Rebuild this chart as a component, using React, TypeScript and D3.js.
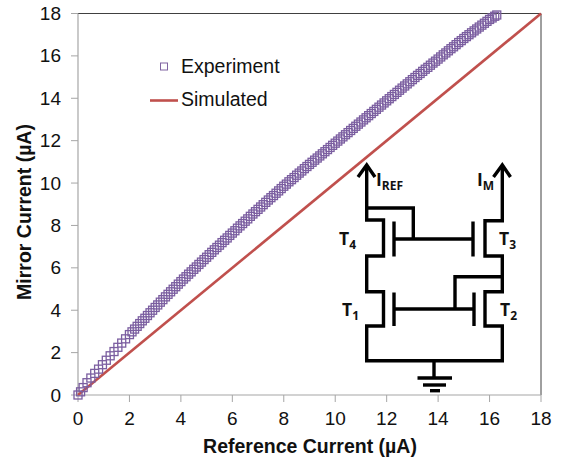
import * as d3 from "d3";

const X_TICKS = [0, 2, 4, 6, 8, 10, 12, 14, 16, 18];
const Y_TICKS = [0, 2, 4, 6, 8, 10, 12, 14, 16, 18];

const EXP_X = [
  0, 0.1, 0.2, 0.35, 0.5, 0.65, 0.8, 0.95, 1.1, 1.25, 1.4, 1.55, 1.7, 1.85, 2, 2.1, 2.2, 2.3, 2.4, 2.5, 2.6, 2.7, 2.8, 2.9, 3,
  3.1, 3.2, 3.3, 3.4, 3.5, 3.6, 3.7, 3.8, 3.9, 4, 4.1, 4.2, 4.3, 4.4, 4.5, 4.6, 4.7, 4.8, 4.9, 5,
  5.1, 5.2, 5.3, 5.4, 5.5, 5.6, 5.7, 5.8, 5.9, 6, 6.1, 6.2, 6.3, 6.4, 6.5, 6.6, 6.7, 6.8, 6.9, 7,
  7.1, 7.2, 7.3, 7.4, 7.5, 7.6, 7.7, 7.8, 7.9, 8, 8.1, 8.2, 8.3, 8.4, 8.5, 8.6, 8.7, 8.8, 8.9, 9,
  9.1, 9.2, 9.3, 9.4, 9.5, 9.6, 9.7, 9.8, 9.9, 10, 10.1, 10.2, 10.3, 10.4, 10.5, 10.6, 10.7, 10.8, 10.9, 11,
  11.1, 11.2, 11.3, 11.4, 11.5, 11.6, 11.7, 11.8, 11.9, 12, 12.1, 12.2, 12.3, 12.4, 12.5, 12.6, 12.7, 12.8, 12.9, 13,
  13.1, 13.2, 13.3, 13.4, 13.5, 13.6, 13.7, 13.8, 13.9, 14, 14.1, 14.2, 14.3, 14.4, 14.5, 14.6, 14.7, 14.8, 14.9, 15,
  15.1, 15.2, 15.3, 15.4, 15.5, 15.6, 15.7, 15.8, 15.9, 16, 16.1, 16.2, 16.28,
];
const EXP_Y = [
  0, 0.15, 0.35, 0.58, 0.8, 1.02, 1.22, 1.43, 1.64, 1.85, 2.05, 2.25, 2.45, 2.65, 2.85, 2.98, 3.11, 3.24, 3.37, 3.5, 3.62, 3.75, 3.88, 4, 4.13,
  4.25, 4.38, 4.5, 4.63, 4.75, 4.87, 4.99, 5.11, 5.23, 5.35, 5.47, 5.58, 5.7, 5.81, 5.93, 6.04, 6.16, 6.27, 6.39, 6.5,
  6.62, 6.73, 6.85, 6.96, 7.07, 7.19, 7.3, 7.41, 7.53, 7.64, 7.75, 7.87, 7.98, 8.09, 8.2, 8.31, 8.43, 8.54, 8.65, 8.76,
  8.87, 8.98, 9.09, 9.2, 9.31, 9.41, 9.52, 9.63, 9.74, 9.85, 9.95, 10.06, 10.16, 10.26, 10.37, 10.47, 10.57, 10.68, 10.78, 10.88,
  10.98, 11.08, 11.18, 11.28, 11.38, 11.48, 11.58, 11.68, 11.78, 11.88, 11.98, 12.08, 12.18, 12.28, 12.38, 12.48, 12.58, 12.68, 12.78, 12.88,
  12.98, 13.08, 13.18, 13.28, 13.38, 13.48, 13.58, 13.68, 13.78, 13.88, 13.98, 14.08, 14.18, 14.28, 14.38, 14.48, 14.58, 14.68, 14.78, 14.88,
  14.98, 15.08, 15.17, 15.27, 15.37, 15.46, 15.56, 15.66, 15.75, 15.85, 15.95, 16.05, 16.14, 16.24, 16.34, 16.43, 16.53, 16.63, 16.72, 16.82,
  16.91, 17, 17.09, 17.18, 17.27, 17.36, 17.45, 17.54, 17.63, 17.72, 17.79, 17.87, 17.93,
];
const SIM_X = [0, 18];
const SIM_Y = [0, 18];

const x = d3.scaleLinear().domain([0, 18]).range([78, 541]);
const y = d3.scaleLinear().domain([0, 18]).range([395, 13.5]);

const simLine = d3
  .line<number>()
  .x((d) => x(d))
  .y((_d, i) => y(SIM_Y[i]));

// circuit drawing, pixel coords
const WIRES = [
  "M366.7,168V220H383.5V256H366.7V291.7H383.5V326H366.7V360.7H502.3V326H485V291.7H502.3V256H485V220.7H502.3V168",
  "M366.7,208H413.3V239",
  "M394,239H473",
  "M394,221.5V256.5",
  "M473,221.5V256.5",
  "M394,292.5V326",
  "M474,292.5V326",
  "M394,309H474",
  "M455,309V276.7H502.3",
  "M434,361V378",
  "M417.5,378H452",
  "M423,385H446",
  "M430,390.7H440",
  "M358,177L366.7,165L375,177",
  "M493.5,177L502.3,165L510.5,177",
];
const CIRCUIT_LABELS = [
  { main: "T", sub: "4", x: 339, y: 245 },
  { main: "T", sub: "3", x: 499, y: 245 },
  { main: "T", sub: "1", x: 342, y: 316 },
  { main: "T", sub: "2", x: 500, y: 316 },
  { main: "I", sub: "REF", x: 376, y: 186 },
  { main: "I", sub: "M", x: 477, y: 186 },
];

const FONT = "'Liberation Sans', Arial, sans-serif";
const GRAY = "#a6a6a6";
const DARK = "#404040";

export default function App() {
  return (
    <svg
      width={562}
      height={460}
      style={{ position: "absolute", left: 0, top: 0, background: "#fff" }}
      fontFamily={FONT}
    >
      {/* plot frame */}
      <line x1={x(0)} x2={x(18)} y1={y(18)} y2={y(18)} stroke={DARK} strokeWidth={1} />
      <line x1={x(18)} x2={x(18)} y1={y(18)} y2={y(0)} stroke={DARK} strokeWidth={1} />
      <line x1={x(0)} x2={x(0)} y1={y(0)} y2={y(18)} stroke={GRAY} strokeWidth={1.2} />
      <line x1={x(0)} x2={x(18)} y1={y(0)} y2={y(0)} stroke={GRAY} strokeWidth={1.2} />

      {X_TICKS.map((t) => (
        <g key={t}>
          <line x1={x(t)} x2={x(t)} y1={y(0)} y2={y(0) + 7} stroke={GRAY} strokeWidth={1} />
          <text x={x(t)} y={424.5} textAnchor="middle" fontSize={19} fill="#111">
            {t}
          </text>
        </g>
      ))}
      {Y_TICKS.map((t) => (
        <g key={t}>
          <line x1={x(0) - 7} x2={x(0)} y1={y(t)} y2={y(t)} stroke={GRAY} strokeWidth={1} />
          <text x={61} y={y(t) + 6.5} textAnchor="end" fontSize={19} fill="#111">
            {t}
          </text>
        </g>
      ))}

      <text x={310} y={452.5} textAnchor="middle" fontSize={19.5} fontWeight="bold" fill="#111">
        Reference Current (µA)
      </text>
      <text
        transform="translate(31,212) rotate(-90)"
        textAnchor="middle"
        fontSize={19.5}
        fontWeight="bold"
        fill="#111"
      >
        Mirror Current (µA)
      </text>

      {/* series */}
      <path d={simLine(SIM_X) ?? ""} fill="none" stroke="#c0504d" strokeWidth={2.6} />
      {EXP_X.map((d, i) => (
        <rect
          key={i}
          x={x(d) - 4}
          y={y(EXP_Y[i]) - 4}
          width={8}
          height={8}
          fill="none"
          stroke="#7b5ea0"
          strokeWidth={1.3}
        />
      ))}

      {/* legend */}
      <rect x={160.5} y={63} width={7} height={7} fill="none" stroke="#8064a2" strokeWidth={1} />
      <text x={181} y={72.5} fontSize={19.5} fill="#111">
        Experiment
      </text>
      <line x1={150} x2={178} y1={100.5} y2={100.5} stroke="#c0504d" strokeWidth={2.6} />
      <text x={181} y={106} fontSize={19.5} fill="#111">
        Simulated
      </text>

      {/* circuit */}
      <g fill="none" stroke="#000" strokeWidth={3.4}>
        {WIRES.map((d) => (
          <path key={d} d={d} />
        ))}
      </g>
      {CIRCUIT_LABELS.map((l) => (
        <text
          key={l.main + l.sub}
          x={l.x}
          y={l.y}
          fontFamily="'Open Sans', 'Noto Sans', sans-serif"
          fontWeight={700}
          fontSize={17.5}
          fill="#111"
        >
          {l.main}
          <tspan fontSize={12} dy={3.5}>
            {l.sub}
          </tspan>
        </text>
      ))}
    </svg>
  );
}
